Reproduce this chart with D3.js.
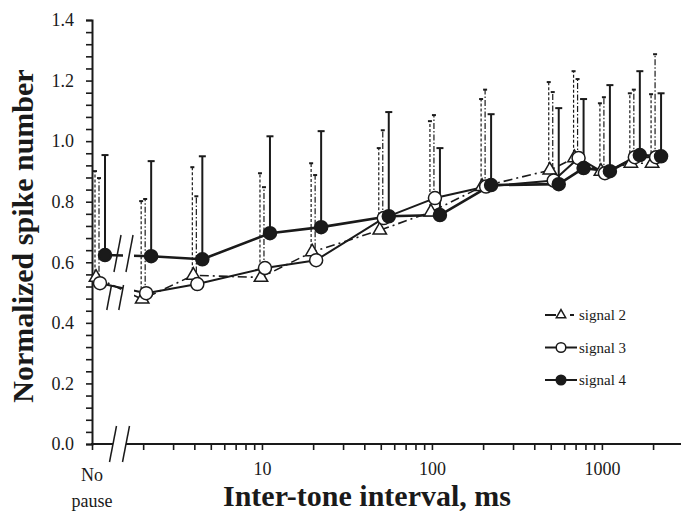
<!DOCTYPE html>
<html>
<head>
<meta charset="utf-8">
<script src="https://cdn.jsdelivr.net/npm/d3@7"></script>
<style>
  body { margin: 0; background: #fff; }
</style>
</head>
<body>
<div id="chart"></div>
<script>
// data (first slot = "No pause")
const intervals = ['No pause', 2, 4, 10, 20, 50, 100, 200, 500, 700, 1000, 1500, 2000];

const signal2Mean  = [0.55, 0.478, 0.557, 0.55, 0.634, 0.706, 0.766, 0.85, 0.904, 0.945, 0.90, 0.927, 0.927];
const signal2Upper = [0.901, 0.802, 0.914, 0.894, 0.927, 0.977, 1.066, 1.139, 1.195, 1.231, 1.125, 1.158, 1.155];

const signal3Mean  = [0.531, 0.498, 0.528, 0.581, 0.607, 0.746, 0.812, 0.85, 0.87, 0.944, 0.894, 0.947, 0.947];
const signal3Upper = [0.878, 0.809, 0.818, 0.848, 0.888, 1.036, 1.086, 1.17, 1.162, 1.205, 1.145, 1.17, 1.287];

const signal4Mean  = [0.624, 0.62, 0.61, 0.696, 0.716, 0.752, 0.756, 0.855, 0.858, 0.911, 0.901, 0.954, 0.95];
const signal4Upper = [0.954, 0.934, 0.95, 1.016, 1.033, 1.096, 0.977, 1.089, 1.109, 1.139, 1.185, 1.231, 1.158];

const yTicks = [0, 0.2, 0.4, 0.6, 0.8, 1.0, 1.2, 1.4];
const xLabelTicks = [10, 100, 1000];

const width = 681;
const height = 513;
const FONT = '"Liberation Serif", "DejaVu Serif", "Times New Roman", Times, serif';
const INK = '#1a1a1a';

const svg = d3.select('#chart')
    .append('svg')
    .attr('width', width)
    .attr('height', height)
    .attr('font-family', FONT);

const xScale = d3.scaleLog().domain([1, 3000]).range([92, 683]);
const yScale = d3.scaleLinear().domain([0, 1.4]).range([444, 20]);

// "No pause" sits just right of the axis corner, in front of the break
const xPos = (i) => i === 0 ? xScale(1) + 5 : xScale(intervals[i]);

const series = [
    { name: 'signal 2', mean: signal2Mean, upper: signal2Upper, dodge: -1, barDodge: -2,
      line: { width: 1.6, dash: '9,4,2,4' }, bar: { width: 1.2, dash: '3,2', cap: 4 }, marker: 'triangle' },
    { name: 'signal 3', mean: signal3Mean, upper: signal3Upper, dodge: 3, barDodge: 2,
      line: { width: 2, dash: null }, bar: { width: 1.2, dash: '6,2,1.5,2', cap: 4 }, marker: 'open' },
    { name: 'signal 4', mean: signal4Mean, upper: signal4Upper, dodge: 8, barDodge: 8,
      line: { width: 2.6, dash: null }, bar: { width: 2, dash: null, cap: 7 }, marker: 'filled' }
];

const addText = (sel) => sel.attr('font-family', FONT).attr('fill', INK);

// ---- axes ----
const yMinor = d3.range(0, 1.4001, 0.04).map(d => +d.toFixed(2));
const yAxis = d3.axisLeft(yScale)
    .tickValues(yMinor)
    .tickSize(6)
    .tickPadding(12)
    .tickFormat(d => yTicks.some(t => Math.abs(t - d) < 1e-6) ? d3.format('.1f')(d) : '');

const yAxisG = svg.append('g')
    .attr('transform', `translate(${xScale(1)},0)`)
    .call(yAxis)
    .attr('font-family', FONT);
yAxisG.select('.domain').attr('stroke', INK).attr('stroke-width', 2);
yAxisG.selectAll('.tick line').attr('stroke', INK).attr('stroke-width', 1.6);
yAxisG.selectAll('.tick text').attr('font-size', 18).call(addText);

const xMinor = [1];
[1, 10, 100, 1000].forEach(dec => d3.range(1, 10).forEach(k => { if (dec * k > 1 && dec * k <= 2000) xMinor.push(dec * k); }));
const xAxis = d3.axisBottom(xScale)
    .tickValues(xMinor)
    .tickSize(6)
    .tickPadding(12)
    .tickFormat(d => xLabelTicks.includes(d) ? d : '');

const xAxisG = svg.append('g')
    .attr('transform', `translate(0,${yScale(0)})`)
    .call(xAxis)
    .attr('font-family', FONT);
xAxisG.select('.domain').remove();
xAxisG.selectAll('.tick line').attr('stroke', INK).attr('stroke-width', 1.6);
xAxisG.selectAll('.tick text').attr('font-size', 18).call(addText);

// x axis line with a break
const axisBreak = [xScale(1) + 21, xScale(1) + 34];
svg.append('line')
    .attr('x1', xScale(1) - 1).attr('x2', axisBreak[0])
    .attr('y1', yScale(0)).attr('y2', yScale(0))
    .attr('stroke', INK).attr('stroke-width', 2);
svg.append('line')
    .attr('x1', axisBreak[1]).attr('x2', width)
    .attr('y1', yScale(0)).attr('y2', yScale(0))
    .attr('stroke', INK).attr('stroke-width', 2);
axisBreak.forEach(bx => {
    svg.append('line')
        .attr('x1', bx - 3.5).attr('y1', yScale(0) + 18)
        .attr('x2', bx + 3.5).attr('y2', yScale(0) - 18)
        .attr('stroke', INK).attr('stroke-width', 1.5);
});

// "No pause" label
svg.append('text')
    .attr('x', xScale(1)).attr('y', 481)
    .attr('text-anchor', 'middle')
    .attr('font-size', 18)
    .call(addText)
    .text('No');
svg.append('text')
    .attr('x', xScale(1)).attr('y', 507)
    .attr('text-anchor', 'middle')
    .attr('font-size', 18)
    .call(addText)
    .text('pause');

// axis titles
svg.append('text')
    .attr('transform', `translate(33, 236) rotate(-90)`)
    .attr('text-anchor', 'middle')
    .attr('font-size', 30)
    .attr('font-weight', 'bold')
    .call(addText)
    .text('Normalized spike number');

svg.append('text')
    .attr('x', 367).attr('y', 506)
    .attr('text-anchor', 'middle')
    .attr('font-size', 30)
    .attr('font-weight', 'bold')
    .call(addText)
    .text('Inter-tone interval, ms');

// ---- error bars (upper only) ----
series.forEach(s => {
    const g = svg.append('g');
    s.mean.forEach((m, i) => {
        const x = xPos(i) + s.barDodge;
        g.append('line')
            .attr('x1', x).attr('x2', x)
            .attr('y1', yScale(m)).attr('y2', yScale(s.upper[i]))
            .attr('stroke', INK)
            .attr('stroke-width', s.bar.width)
            .attr('stroke-dasharray', s.bar.dash);
        g.append('line')
            .attr('x1', x - s.bar.cap / 2).attr('x2', x + s.bar.cap / 2)
            .attr('y1', yScale(s.upper[i])).attr('y2', yScale(s.upper[i]))
            .attr('stroke', INK)
            .attr('stroke-width', 2);
    });
});

// ---- lines, with a gap at the break ----
const defs = svg.append('defs');
const clip = defs.append('clipPath').attr('id', 'break-clip');
const lineBreak = [xScale(1) + 31, xScale(1) + 42];
clip.append('rect').attr('x', 0).attr('y', 0).attr('width', lineBreak[0]).attr('height', height);
clip.append('rect').attr('x', lineBreak[1]).attr('y', 0).attr('width', width - lineBreak[1]).attr('height', height);

series.forEach(s => {
    const line = d3.line()
        .x((d, i) => xPos(i) + s.dodge)
        .y(d => yScale(d));
    svg.append('path')
        .datum(s.mean)
        .attr('d', line)
        .attr('fill', 'none')
        .attr('stroke', INK)
        .attr('stroke-width', s.line.width)
        .attr('stroke-dasharray', s.line.dash)
        .attr('stroke-linejoin', 'round')
        .attr('clip-path', 'url(#break-clip)');
});

// data break slashes
[lineBreak[0] - 9, lineBreak[0] + 3].forEach(bx => {
    const slope = 0.19;
    const yMid = 272;
    svg.append('line')
        .attr('x1', bx).attr('y1', yMid)
        .attr('x2', bx + (yMid - 235) * slope).attr('y2', 235)
        .attr('stroke', INK).attr('stroke-width', 1.5);
    svg.append('line')
        .attr('x1', bx - (285 - yMid) * slope).attr('y1', 285)
        .attr('x2', bx - (310 - yMid) * slope).attr('y2', 310)
        .attr('stroke', INK).attr('stroke-width', 1.5);
});

// ---- markers ----
const drawMarker = (g, type, x, y, small) => {
    if (type === 'triangle') {
        g.append('path')
            .attr('d', d3.symbol(d3.symbolTriangle, small ? 38 : 78)())
            .attr('transform', `translate(${x},${y})`)
            .attr('fill', '#fff')
            .attr('stroke', INK)
            .attr('stroke-width', 1.5);
    } else {
        g.append('circle')
            .attr('cx', x).attr('cy', y)
            .attr('r', small ? 4.8 : 6.5)
            .attr('fill', type === 'filled' ? INK : '#fff')
            .attr('stroke', INK)
            .attr('stroke-width', 1.5);
    }
};

series.forEach(s => {
    const g = svg.append('g');
    s.mean.forEach((m, i) => drawMarker(g, s.marker, xPos(i) + s.dodge, yScale(m), false));
});

// ---- legend ----
const legend = svg.append('g').attr('transform', 'translate(545, 315)');
series.forEach((s, i) => {
    const row = legend.append('g').attr('transform', `translate(0, ${i * 32.5})`);
    if (s.marker === 'triangle') {
        row.append('line').attr('x1', 0).attr('x2', 11).attr('y1', 0).attr('y2', 0)
            .attr('stroke', INK).attr('stroke-width', 2);
        row.append('line').attr('x1', 25).attr('x2', 29).attr('y1', 0).attr('y2', 0)
            .attr('stroke', INK).attr('stroke-width', 2);
    } else {
        row.append('line').attr('x1', 0).attr('x2', 32).attr('y1', 0).attr('y2', 0)
            .attr('stroke', INK).attr('stroke-width', 2);
    }
    drawMarker(row, s.marker, 16, 0, true);
    row.append('text')
        .attr('x', 34).attr('y', 5)
        .attr('font-size', 15)
        .call(addText)
        .text(s.name);
});
</script>
</body>
</html>
